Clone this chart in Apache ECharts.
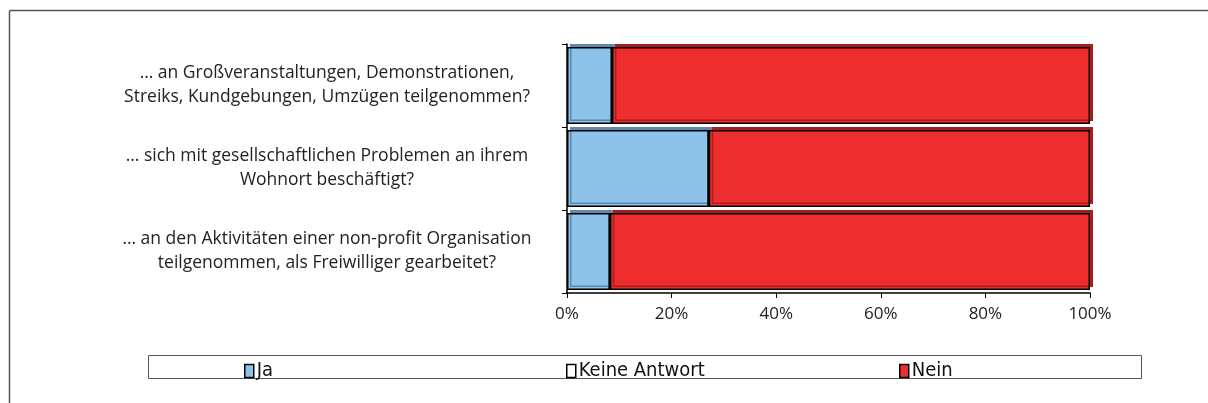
<!DOCTYPE html>
<html>
<head>
<meta charset="utf-8">
<script src="https://cdn.jsdelivr.net/npm/echarts@6/dist/echarts.min.js"></script>
<style>
  html, body { margin: 0; padding: 0; background: #fff; }
  #chart { width: 1208px; height: 403px; }
</style>
</head>
<body>
<div id="chart"></div>
<script>
// Fragen (Kategorien), von oben nach unten
const questions = [
  '… an Großveranstaltungen, Demonstrationen,\nStreiks, Kundgebungen, Umzügen teilgenommen?',
  '… sich mit gesellschaftlichen Problemen an ihrem\nWohnort beschäftigt?',
  '… an den Aktivitäten einer non-profit Organisation\nteilgenommen, als Freiwilliger gearbeitet?'
];

// Anteile in Prozent
const jaValues = [8.6, 27.1, 8.2];
const keineAntwortValues = [0, 0, 0];
const neinValues = [91.4, 72.9, 91.8];

const xTicks = [0, 20, 40, 60, 80, 100];

const chart = echarts.init(document.getElementById('chart'));

const labelFont = '"Open Sans", "Noto Sans", sans-serif';
const legendFont = '"Liberation Sans Narrow", "DejaVu Sans Condensed", sans-serif';

// Balken mit kleinem "3D"-Versatz nach oben rechts
const barStyle = (color, shade) => ({
  color: color,
  borderColor: '#000',
  borderWidth: 1.5,
  shadowColor: shade,
  shadowBlur: 0,
  shadowOffsetX: 3,
  shadowOffsetY: -3
});

const legendBase = {
  top: 356,
  itemWidth: 9,
  itemHeight: 13,
  icon: 'rect',
  itemGap: 4,
  textStyle: { fontFamily: legendFont, fontSize: 20, color: '#111', padding: [0, 0, 0, -2] },
  itemStyle: { borderColor: '#000', borderWidth: 1.5 }
};

chart.setOption({
  animation: false,
  grid: { left: 567, right: 118, top: 44, bottom: 110 },
  graphic: [
    // äußerer Rahmen (links + oben)
    { type: 'line', shape: { x1: 9.5, y1: 10.5, x2: 9.5, y2: 403 }, style: { stroke: '#555', lineWidth: 1.5 } },
    { type: 'line', shape: { x1: 9.5, y1: 10.5, x2: 1208, y2: 10.5 }, style: { stroke: '#555', lineWidth: 1.5 } },
    // Legendenrahmen
    { type: 'rect', shape: { x: 148.5, y: 355.5, width: 993, height: 23 }, style: { fill: 'none', stroke: '#555', lineWidth: 1 } }
  ],
  legend: [
    Object.assign({}, legendBase, { left: 239, data: ['Ja'] }),
    Object.assign({}, legendBase, { left: 561, data: ['Keine Antwort'] }),
    Object.assign({}, legendBase, { left: 894, data: ['Nein'] })
  ],
  xAxis: {
    type: 'value',
    min: xTicks[0],
    max: xTicks[xTicks.length - 1],
    interval: 20,
    axisLine: { show: true, lineStyle: { color: '#000', width: 1.5 } },
    axisTick: { show: true, length: 5, lineStyle: { color: '#000' } },
    splitLine: { show: false },
    axisLabel: {
      formatter: '{value}%',
      fontFamily: labelFont,
      fontSize: 17,
      color: '#222',
      margin: 13
    }
  },
  yAxis: {
    type: 'category',
    inverse: true,
    data: questions,
    axisLine: { show: true, lineStyle: { color: '#000', width: 1.5 } },
    axisTick: { show: true, length: 5, lineStyle: { color: '#000' } },
    axisLabel: {
      align: 'center',
      margin: 240,
      fontFamily: labelFont,
      fontSize: 17.5,
      lineHeight: 24,
      color: '#222'
    }
  },
  series: [
    {
      name: 'Ja',
      type: 'bar',
      stack: 'total',
      barCategoryGap: '7%',
      data: jaValues,
      itemStyle: barStyle('#8DC3E9', '#5F88AE')
    },
    {
      name: 'Keine Antwort',
      type: 'bar',
      stack: 'total',
      data: keineAntwortValues,
      itemStyle: barStyle('#FFFFFF', '#999999')
    },
    {
      name: 'Nein',
      type: 'bar',
      stack: 'total',
      data: neinValues,
      itemStyle: barStyle('#EE2E2E', '#A81E1E')
    }
  ]
});

window.addEventListener('resize', () => chart.resize());
</script>
</body>
</html>
